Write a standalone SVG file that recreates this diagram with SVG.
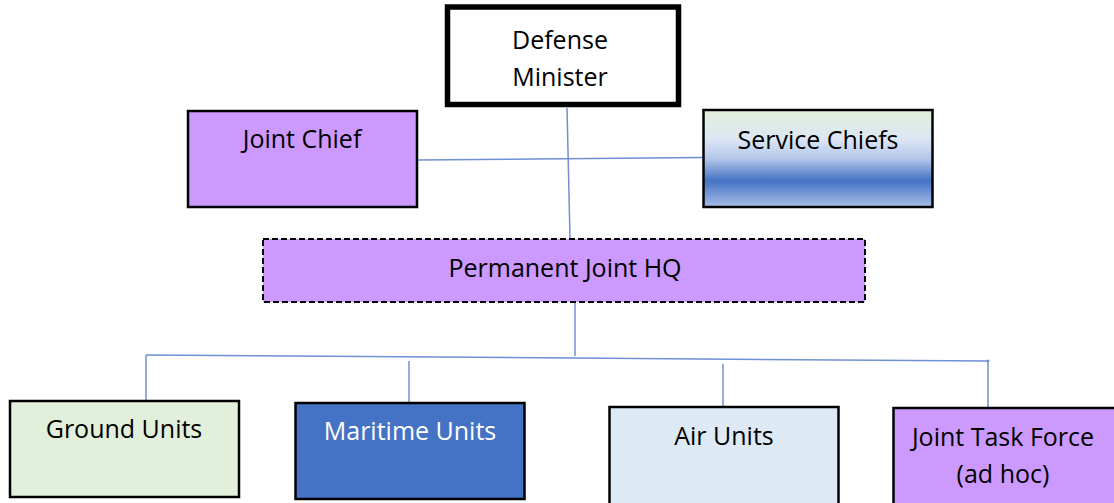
<svg xmlns="http://www.w3.org/2000/svg" width="1114" height="503" viewBox="0 0 1114 503">
<defs>
<linearGradient id="svcGrad" x1="0" y1="0" x2="0" y2="1">
<stop offset="0" stop-color="#e3f0db"/>
<stop offset="0.3" stop-color="#dce6f4"/>
<stop offset="0.5" stop-color="#b4c7ea"/>
<stop offset="0.73" stop-color="#4472c4"/>
<stop offset="1" stop-color="#a8bfe8"/>
</linearGradient>
</defs>
<style>
.box{stroke:#000;stroke-width:2.5}
.t{font-family:"Open Sans","Liberation Sans",Arial,sans-serif;font-size:25px;fill:#000;text-anchor:middle}
.w{fill:#fff}
.c{stroke:#6f90d3;stroke-width:1.5;fill:none}
</style>
<rect width="1114" height="503" fill="#fff"/>
<g id="connectors">
<line class="c" x1="567" y1="108" x2="570" y2="238"/>
<line class="c" x1="418" y1="160" x2="703" y2="157.5"/>
<line class="c" x1="575" y1="302" x2="575" y2="356"/>
<line class="c" x1="146" y1="355" x2="988" y2="361"/>
<line class="c" x1="146" y1="355" x2="146" y2="400"/>
<line class="c" x1="409" y1="361" x2="409" y2="402"/>
<line class="c" x1="723" y1="364" x2="723" y2="406"/>
<line class="c" x1="988" y1="361" x2="988" y2="408"/>
<circle cx="988" cy="361" r="1.5" fill="#6f90d3"/>
</g>
<g id="defense-minister">
<rect x="447.5" y="7" width="231" height="97.5" fill="#fff" stroke="#000" stroke-width="5.5"/>
<text class="t" x="560" y="49">Defense</text>
<text class="t" x="560" y="86">Minister</text>
</g>
<g id="joint-chief">
<rect class="box" x="188" y="111" width="229" height="96" fill="#cc99ff"/>
<text class="t" x="302" y="148">Joint Chief</text>
</g>
<g id="service-chiefs">
<rect class="box" x="703.5" y="110" width="229" height="97" fill="url(#svcGrad)"/>
<text class="t" x="818" y="149">Service Chiefs</text>
</g>
<g id="pjhq">
<rect x="263" y="239" width="602" height="63" fill="#cc99ff" stroke="#000" stroke-width="2" stroke-dasharray="6,3"/>
<text class="t" x="565" y="277">Permanent Joint HQ</text>
</g>
<g id="ground-units">
<rect class="box" x="10" y="401" width="229" height="96" fill="#e2efda"/>
<text class="t" x="124" y="438">Ground Units</text>
</g>
<g id="maritime-units">
<rect class="box" x="295.5" y="403" width="229" height="96" fill="#4472c4"/>
<text class="t w" x="410" y="440">Maritime Units</text>
</g>
<g id="air-units">
<rect class="box" x="609.5" y="407" width="229" height="100" fill="#dee9f6"/>
<text class="t" x="724" y="445">Air Units</text>
</g>
<g id="joint-task-force">
<rect class="box" x="893.5" y="408" width="230" height="100" fill="#cc99ff"/>
<text class="t" x="1003" y="446">Joint Task Force</text>
<text class="t" x="1003" y="483">(ad hoc)</text>
</g>
</svg>
